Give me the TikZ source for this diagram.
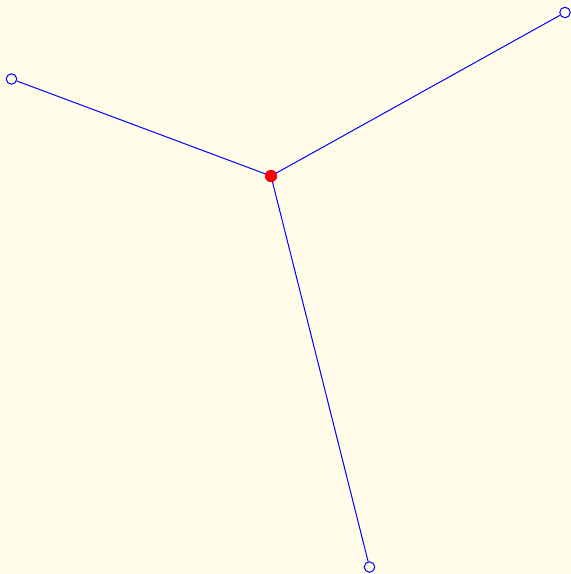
\documentclass[tikz,border=0pt]{standalone}
\definecolor{bgc}{RGB}{255,253,234}
\tikzset{
  leaf/.style={circle,draw=blue,line width=1pt,minimum size=10.5pt,inner sep=0pt,fill=none},
  hub/.style={circle,fill=red,draw=none,minimum size=12pt,inner sep=0pt},
  edge/.style={draw=blue,line width=1pt}
}
\begin{document}
\begin{tikzpicture}[x=1pt,y=-1pt]
\fill[bgc] (0,0) rectangle (571,574);
\useasboundingbox (0,0) rectangle (571,574);
\node[leaf] (a) at (11.5,79) {};
\node[leaf] (b) at (565,12.5) {};
\node[leaf] (c) at (369.5,567) {};
\node[hub] (h) at (271,176) {};
\draw[edge] (a) -- (h.center);
\draw[edge] (b) -- (h.center);
\draw[edge] (c) -- (h.center);
\node[hub] at (h) {};
\end{tikzpicture}
\end{document}
